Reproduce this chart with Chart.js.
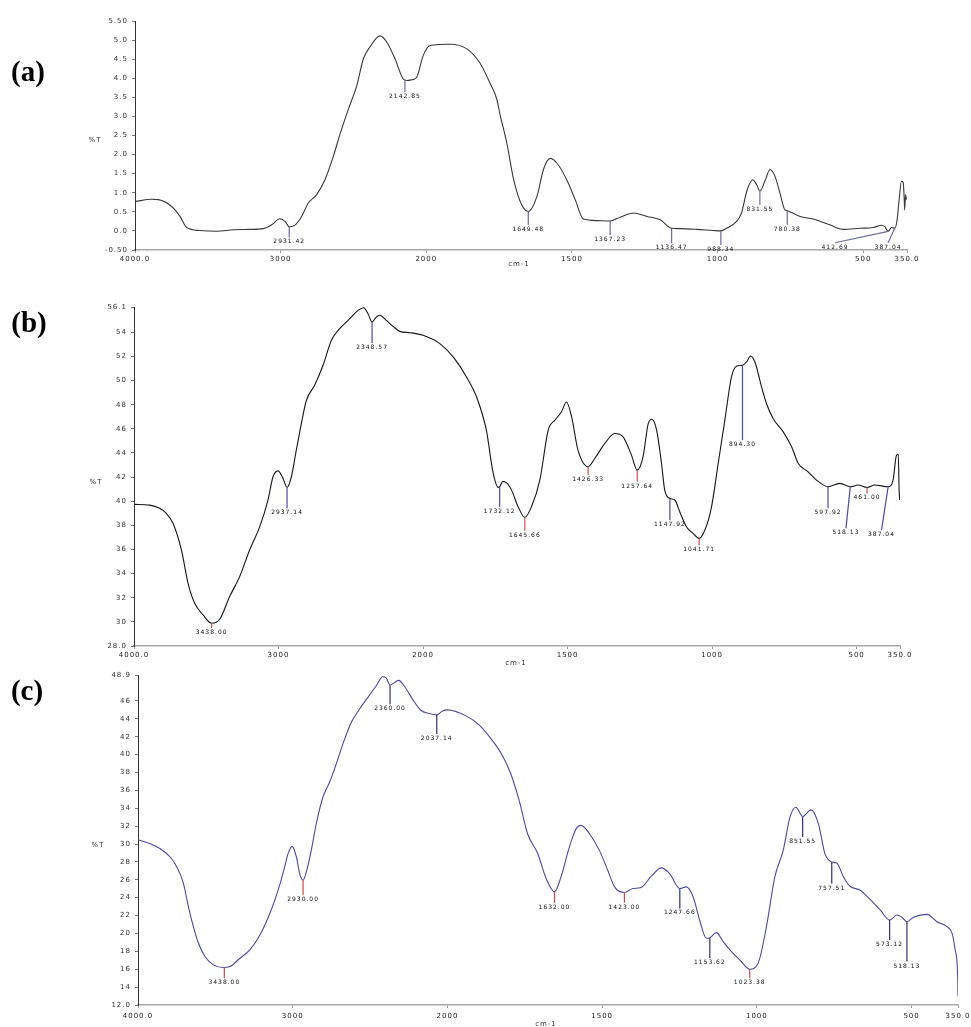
<!DOCTYPE html>
<html>
<head>
<meta charset="utf-8">
<script src="https://cdn.jsdelivr.net/npm/chart.js@4/dist/chart.umd.min.js"></script>
<style>
  html,body{margin:0;padding:0;background:#fff;}
  #wrap{position:relative;width:971px;height:1027px;overflow:hidden;background:#fff;}
  canvas{position:absolute;left:0;}
  .t{position:absolute;transform:translate(-50%,-50%);white-space:nowrap;line-height:1;}
  .panel{font-family:"Liberation Serif","Times New Roman",serif;font-weight:bold;font-size:29px;color:#000;}
  .small{font-family:"DejaVu Sans",sans-serif;font-size:7px;letter-spacing:1px;color:#333;}
</style>
</head>
<body>
<div id="wrap">
  <canvas id="ca" width="971" height="280" style="top:0px"></canvas>
  <canvas id="cb" width="971" height="390" style="top:280px"></canvas>
  <canvas id="cc" width="971" height="362" style="top:665px"></canvas>
  <div class="t panel" style="left:28px;top:71px">(a)</div>
  <div class="t panel" style="left:29px;top:322px">(b)</div>
  <div class="t panel" style="left:27px;top:690px">(c)</div>
  <div class="t small" style="left:95px;top:140px">%T</div>
  <div class="t small" style="left:96px;top:482px">%T</div>
  <div class="t small" style="left:98px;top:845px">%T</div>
  <div class="t small" style="left:519px;top:264px">cm-1</div>
  <div class="t small" style="left:516px;top:663px">cm-1</div>
  <div class="t small" style="left:546px;top:1024px">cm-1</div>
</div>
<script>
// ---------- shared axis data ----------
const xTickValues = [4000, 3000, 2000, 1500, 1000, 500, 350];
const xTickLabels = ['4000.0', '3000', '2000', '1500', '1000', '500', '350.0'];

// ---------- panel (a) ----------
const aWavenumber = [4000,3886,3840,3748,3691,3645,3554,3439,3325,3211,3119,3062,3005,2970,2941,2902,2856,2810,2753,2696,2638,2593,2535,2478,2432,2387,2318,2272,2215,2158,2130,2100,2067,2021,1987,1918,1861,1816,1780,1758,1747,1724,1700,1673,1650,1620,1598,1575,1552,1518,1489,1461,1414,1369,1335,1289,1243,1197,1158,1130,1072,1015,989,969,935,918,900,880,866,855,838,820,803,786,769,761,746,717,672,615,569,512,466,437,426,415,403,392,384,377,369,363,360,358,355,352];
const aTransmittance = [0.77,0.83,0.82,0.64,0.38,0.09,0.01,-0.01,0.03,0.04,0.06,0.16,0.32,0.25,0.11,0.15,0.38,0.73,0.95,1.34,1.96,2.53,3.19,3.80,4.51,4.82,5.11,4.95,4.51,3.98,3.94,3.96,4.02,4.60,4.86,4.89,4.77,4.40,3.85,3.45,3.05,2.31,1.34,0.69,0.51,0.91,1.61,1.90,1.78,1.34,0.82,0.31,0.27,0.26,0.36,0.47,0.38,0.29,0.07,0.06,0.04,0.01,0.0,0.07,0.25,0.47,1.04,1.34,1.21,1.04,1.30,1.61,1.43,0.99,0.55,0.53,0.48,0.38,0.31,0.16,0.04,0.07,0.09,0.15,0.11,-0.01,0.09,0.07,0.29,0.82,1.30,1.27,0.91,0.55,0.95,0.82];
const aYTicks = [-0.5,0,0.5,1,1.5,2,2.5,3,3.5,4,4.5,5,5.5];
const aYTickLabels = ['-0.50','0.0','0.5','1.0','1.5','2.0','2.5','3.0','3.5','4.0','4.5','5.0','5.50'];
const aPeakLabels = ['2931.42','2142.85','1649.48','1367.23','1136.47','988.34','831.55','780.38','412.69','387.04'];
const aPeakWn     = [2941, 2147, 1650, 1369, 1158, 989, 855, 761, 415, 392];
const aPeakEnd    = [-0.17, 3.63, 0.16, -0.105, -0.325, -0.37, 0.685, 0.16, -0.31, -0.31];
const aPeakLabelWn= [2941, 2147, 1650, 1369, 1158, 989, 855, 761, 597, 415];
const aPeakType   = ['b','b','b','b','b','b','b','b','b','b'];

// ---------- panel (b) ----------
const bWavenumber = [4000,3892,3822,3776,3730,3672,3626,3580,3522,3463,3407,3338,3269,3200,3130,3073,3038,3003,2969,2941,2911,2877,2842,2807,2750,2692,2634,2577,2507,2450,2411,2381,2353,2323,2300,2254,2208,2161,2092,2000,1942,1896,1850,1815,1781,1758,1740,1735,1724,1708,1694,1671,1648,1625,1596,1567,1544,1521,1504,1486,1464,1429,1406,1371,1337,1308,1279,1259,1239,1221,1208,1192,1175,1164,1146,1129,1112,1089,1066,1045,1025,1002,979,956,933,916,895,881,867,852,829,812,789,754,725,702,668,639,599,558,522,495,464,437,391,374,362,356,353,351];
const bTransmittance = [39.74,39.68,39.41,38.99,38.17,35.96,33.2,31.54,30.58,29.89,30.22,32.1,33.75,35.96,37.89,40.10,42.03,42.52,41.89,41.14,42.03,44.23,46.44,48.37,49.61,51.27,53.34,54.30,55.13,55.82,56.04,55.54,54.86,55.27,55.41,54.99,54.50,54.08,53.97,53.75,53.06,51.96,50.30,48.65,45.89,42.4,41.15,41.2,41.65,41.45,40.92,39.54,38.66,39.54,41.75,45.89,46.72,47.41,48.23,46.99,44.23,42.86,43.54,44.79,45.61,45.34,43.82,42.58,43.68,46.44,46.80,45.89,43.13,40.92,40.23,40.10,39.13,37.89,37.34,36.92,37.61,39.54,43.13,46.72,50.30,51.19,51.27,51.54,52.04,51.54,49.48,48.10,46.86,45.75,44.51,43.13,42.44,41.75,41.20,41.48,41.20,41.34,41.14,41.34,41.20,41.75,43.82,43.88,40.92,40.10];
const bYTicks = [28,30,32,34,36,38,40,42,44,46,48,50,52,54,56.1];
const bYTickLabels = ['28.0','30','32','34','36','38','40','42','44','46','48','50','52','54','56.1'];
const bPeakLabels = ['3438.00','2937.14','2348.57','1732.12','1645.66','1426.33','1257.64','1147.92','1041.71','894.30','597.92','518.13','461.00','387.04'];
const bPeakWn     = [3463, 2941, 2353, 1735, 1648, 1429, 1259, 1146, 1045, 895, 599, 522, 464, 391];
const bPeakEnd    = [29.48, 39.41, 53.12, 39.54, 37.56, 42.17, 41.61, 38.44, 36.37, 45.06, 39.41, 37.75, 40.65, 37.61];
const bPeakLabelWn= [3463, 2941, 2353, 1735, 1648, 1429, 1259, 1146, 1045, 895, 599, 537, 464, 414];
const bPeakType   = ['r','b','b','b','r','r','r','b','r','b','b','b','r','b'];

// ---------- panel (c) ----------
const cWavenumber = [4000,3921,3856,3792,3749,3706,3674,3642,3609,3567,3513,3448,3406,3341,3277,3212,3148,3094,3052,3030,3004,2976,2955,2933,2912,2880,2848,2805,2762,2719,2676,2622,2569,2515,2461,2418,2397,2371,2343,2315,2279,2225,2172,2118,2069,2032,2000,1940,1897,1854,1822,1795,1768,1741,1708,1681,1654,1633,1606,1584,1568,1541,1509,1482,1460,1428,1401,1374,1341,1309,1282,1249,1228,1206,1185,1163,1152,1131,1109,1082,1055,1023,996,969,942,915,893,874,852,825,801,780,758,742,720,699,666,634,601,571,547,531,515,494,450,418,386,369,359,351,350];
const cTransmittance = [30.48,30.04,29.48,28.55,27.44,25.58,22.98,20.76,18.90,17.42,16.49,16.19,16.30,17.23,18.16,19.83,22.24,24.84,27.44,28.92,29.74,28.55,26.69,25.95,26.88,29.29,32.26,35.23,36.90,38.94,41.17,43.58,45.07,46.37,47.67,48.71,48.60,47.78,48.04,48.30,47.67,46.18,44.96,44.59,44.44,44.88,45.0,44.33,43.30,41.54,39.87,37.83,34.86,31.15,28.92,26.14,24.65,26.32,29.66,31.71,32.08,31.15,29.29,27.07,25.21,24.58,25.02,25.14,26.40,27.33,26.69,25.02,25.21,24.10,21.50,19.46,19.53,20.09,19.09,17.97,17.04,16.00,16.67,20.76,26.32,29.29,33.0,34.12,33.08,33.82,32.26,28.92,27.99,27.88,26.32,25.28,24.84,23.80,22.61,21.50,22.06,21.80,21.31,21.80,22.13,21.31,20.76,20.01,18.16,15.19,12.96];
const cYTicks = [12,14,16,18,20,22,24,26,28,30,32,34,36,38,40,42,44,46,48.9];
const cYTickLabels = ['12.0','14','16','18','20','22','24','26','28','30','32','34','36','38','40','42','44','46','48.9'];
const cPeakLabels = ['3438.00','2930.00','2360.00','2037.14','1632.00','1423.00','1247.66','1153.62','1023.38','851.55','757.51','573.12','518.13'];
const cPeakWn     = [3442, 2933, 2371, 2069, 1654, 1428, 1249, 1152, 1023, 852, 758, 571, 515];
const cPeakEnd    = [15.0, 24.28, 45.63, 42.29, 23.43, 23.43, 22.80, 17.23, 15.0, 30.78, 25.58, 19.27, 16.86];
const cPeakLabelWn= [3442, 2933, 2371, 2069, 1654, 1428, 1249, 1152, 1023, 852, 758, 571, 515];
const cPeakType   = ['r','r','b','b','r','r','b','b','r','b','b','b','b'];

// ---------- custom IR wavenumber scale (2:1 compression above the break) ----------
class IRScale extends Chart.LinearScale {
  static id = 'irwave';
  static defaults = {};
  _frac(v) {
    const hi = this.max, lo = this.min, br = 2000;
    const total = (hi - br) * 0.5 + (br - lo);
    return v >= br ? (hi - v) * 0.5 / total : ((hi - br) * 0.5 + (br - v)) / total;
  }
  getPixelForValue(v) {
    if (v === null || v === undefined || isNaN(v)) return NaN;
    return this.left + this._frac(v) * this.width;
  }
  getValueForPixel(p) {
    const hi = this.max, lo = this.min, br = 2000;
    const total = (hi - br) * 0.5 + (br - lo);
    const f = (p - this.left) / this.width * total;
    const a = (hi - br) * 0.5;
    return f <= a ? hi - f / 0.5 : br - (f - a);
  }
}
Chart.register(IRScale);

const TICK_FONT = {family: 'DejaVu Sans', size: 7};

function interp(wns, vals, w) {
  for (let i = 0; i < wns.length - 1; i++) {
    if (w <= wns[i] && w >= wns[i + 1]) {
      const t = (wns[i] - w) / (wns[i] - wns[i + 1]);
      return vals[i] + t * (vals[i + 1] - vals[i]);
    }
  }
  return vals[vals.length - 1];
}

function makePanel(id, p) {
  const peakPlugin = {
    id: 'peaks',
    beforeDraw(chart) { chart.ctx.letterSpacing = '1px'; },
    afterDatasetsDraw(chart) {
      const ctx = chart.ctx, xs = chart.scales.x, ys = chart.scales.y;
      ctx.save();
      ctx.letterSpacing = '1px';
      ctx.font = '6px "DejaVu Sans"';
      ctx.textAlign = 'center';
      ctx.textBaseline = 'top';
      p.peakWn.forEach((w, i) => {
        const x0 = xs.getPixelForValue(w);
        const y0 = ys.getPixelForValue(interp(p.wn, p.t, w));
        const x1 = xs.getPixelForValue(p.peakLabelWn[i]);
        const y1 = ys.getPixelForValue(p.peakEnd[i]);
        ctx.strokeStyle = p.peakType[i] === 'r' ? p.red : p.blue;
        ctx.lineWidth = 1.2;
        ctx.beginPath();
        ctx.moveTo(x0, y0);
        ctx.lineTo(x1, y1);
        ctx.stroke();
        ctx.fillStyle = '#111';
        ctx.fillText(p.peakLabels[i], x1, y1 + 1.5);
      });
      ctx.restore();
    }
  };
  const fixY = s => { s.width = 40; s.paddingTop = 0; s.paddingBottom = 0; s.paddingLeft = 0; s.paddingRight = 0; };
  const fixX = s => { s.height = 20; s.paddingLeft = 0; s.paddingRight = 0; s.paddingTop = 0; s.paddingBottom = 0; };
  return new Chart(document.getElementById(id), {
    type: 'line',
    data: {
      datasets: [{
        data: p.wn.map((w, i) => ({x: w, y: p.t[i]})),
        borderColor: p.lineColor,
        borderWidth: 1.1,
        pointRadius: 0,
        fill: false,
        cubicInterpolationMode: 'monotone'
      }]
    },
    options: {
      responsive: false,
      animation: false,
      events: [],
      layout: {padding: p.pad},
      plugins: {legend: {display: false}, tooltip: {enabled: false}},
      scales: {
        x: {
          type: 'irwave', min: 350, max: 4000,
          afterBuildTicks: s => { s.ticks = xTickValues.map(v => ({value: v})); },
          afterFit: fixX,
          ticks: {autoSkip: false, maxRotation: 0, minRotation: 0, font: TICK_FONT, color: '#222',
                  padding: p.xPad, callback: (v, i) => xTickLabels[i]},
          grid: {drawOnChartArea: false, tickLength: 3, color: '#999'},
          border: {color: '#a8a8a8', width: 1.6}
        },
        y: {
          min: p.yMin, max: p.yMax,
          afterBuildTicks: s => { s.ticks = p.yTicks.map(v => ({value: v})); },
          afterFit: fixY,
          ticks: {autoSkip: false, font: TICK_FONT, color: '#333', padding: 4,
                  callback: (v, i) => p.yLabels[i]},
          grid: {drawOnChartArea: false, tickLength: 3, color: '#777'},
          border: {color: '#333', width: 1}
        }
      }
    },
    plugins: [peakPlugin]
  });
}

makePanel('ca', {
  wn: aWavenumber, t: aTransmittance, yTicks: aYTicks, yLabels: aYTickLabels, yMin: -0.5, yMax: 5.5,
  peakLabels: aPeakLabels, peakWn: aPeakWn, peakEnd: aPeakEnd, peakLabelWn: aPeakLabelWn, peakType: aPeakType,
  lineColor: '#383838', blue: '#6a6a9c', red: '#c85050',
  pad: {left: 95, right: 64, top: 21, bottom: 10}, xPad: 2
});
makePanel('cb', {
  wn: bWavenumber, t: bTransmittance, yTicks: bYTicks, yLabels: bYTickLabels, yMin: 28, yMax: 56.1,
  peakLabels: bPeakLabels, peakWn: bPeakWn, peakEnd: bPeakEnd, peakLabelWn: bPeakLabelWn, peakType: bPeakType,
  lineColor: '#151515', blue: '#4a4aa6', red: '#d05050',
  pad: {left: 94, right: 71, top: 27, bottom: 4}, xPad: 2
});
makePanel('cc', {
  wn: cWavenumber, t: cTransmittance, yTicks: cYTicks, yLabels: cYTickLabels, yMin: 12, yMax: 48.9,
  peakLabels: cPeakLabels, peakWn: cPeakWn, peakEnd: cPeakEnd, peakLabelWn: cPeakLabelWn, peakType: cPeakType,
  lineColor: '#4a4a9e', blue: '#2e2e78', red: '#d04848',
  pad: {left: 98, right: 13, top: 10, bottom: 2}, xPad: 4
});
</script>
</body>
</html>
